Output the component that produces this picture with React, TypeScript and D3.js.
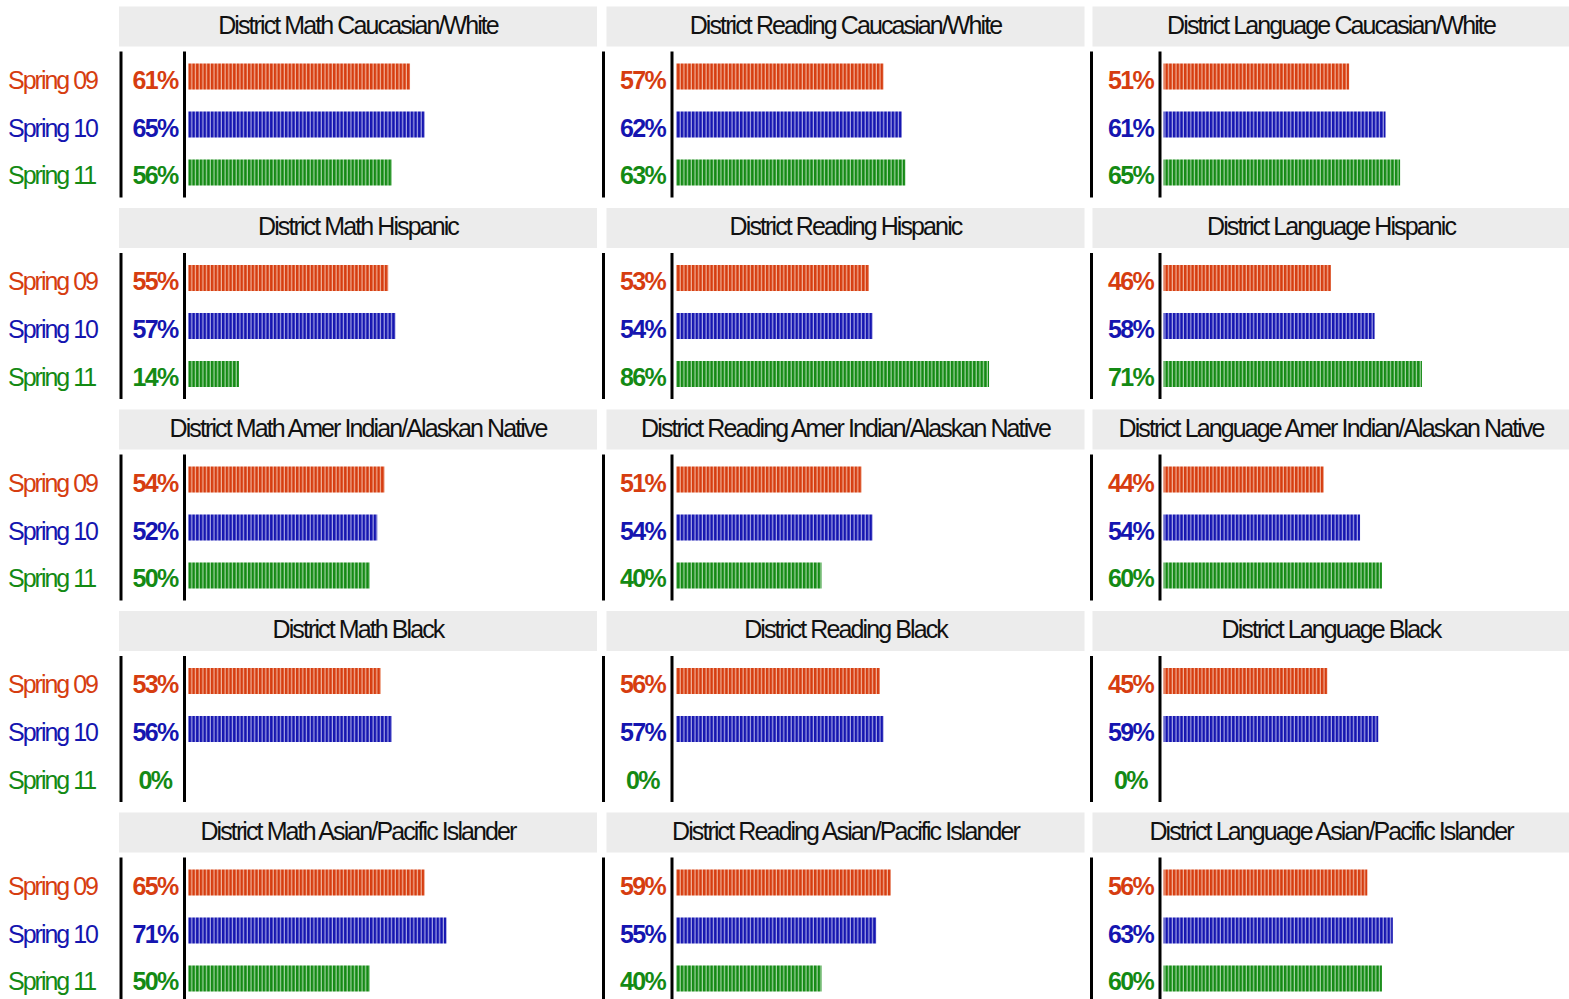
import React from "react";
import * as d3 from "d3";

const periods = ["Spring 09", "Spring 10", "Spring 11"];
const subjects = ["Math", "Reading", "Language"];
const groups = [
  "Caucasian/White",
  "Hispanic",
  "Amer Indian/Alaskan Native",
  "Black",
  "Asian/Pacific Islander",
];

// values[subject][group] = [Spring 09, Spring 10, Spring 11]
const mathValues = [
  [61, 65, 56],
  [55, 57, 14],
  [54, 52, 50],
  [53, 56, 0],
  [65, 71, 50],
];
const readingValues = [
  [57, 62, 63],
  [53, 54, 86],
  [51, 54, 40],
  [56, 57, 0],
  [59, 55, 40],
];
const languageValues = [
  [51, 61, 65],
  [46, 58, 71],
  [44, 54, 60],
  [45, 59, 0],
  [56, 63, 60],
];
const subjectValues = [mathValues, readingValues, languageValues];

const periodColors = ["#d63d10", "#1515b0", "#148a14"];
const periodLight = ["#f2b49c", "#a8a8e6", "#a6d6a6"];

const W = 1569;
const H = 999;
const FONT = "'Liberation Sans', Arial, sans-serif";

// column layout
const cols = [
  { line1: 121, line2: 184.5, bar: 188, hx: 119, hw: 478 },
  { line1: 603.5, line2: 672, bar: 676, hx: 606.5, hw: 478 },
  { line1: 1091.5, line2: 1160, bar: 1163.5, hx: 1092.5, hw: 477 },
];

const x = d3.scaleLinear().domain([0, 100]).range([0, 364]);
const rowTop = (i: number) => 6.5 + i * 201.5;

export default function App() {
  return (
    <svg
      width={W}
      height={H}
      style={{ position: "absolute", left: 0, top: 0, background: "#fff" }}
      fontFamily={FONT}
    >
      <defs>
        {periods.map((p, k) => (
          <pattern
            key={p}
            id={`stripe${k}`}
            patternUnits="userSpaceOnUse"
            width={3.7}
            height={10}
          >
            <rect width={3.7} height={10} fill={periodLight[k]} />
            <rect width={2.5} height={10} fill={periodColors[k]} />
          </pattern>
        ))}
      </defs>
      {groups.map((g, gi) => {
        const top = rowTop(gi);
        const y = d3
          .scaleBand<string>()
          .domain(periods)
          .range([top + 45, top + 191])
          .paddingInner(0.458)
          .paddingOuter(0.25);
        return (
          <g key={g}>
            {subjects.map((s, si) => {
              const c = cols[si];
              const vals = subjectValues[si][gi];
              return (
                <g key={s}>
                  <rect x={c.hx} y={top} width={c.hw} height={40} fill="#ececec" />
                  <text
                    x={c.hx + c.hw / 2}
                    y={top + 27}
                    textAnchor="middle"
                    fontSize={25}
                    letterSpacing={-1.9}
                    fill="#111"
                  >
                    {`District ${s} ${g}`}
                  </text>
                  <line x1={c.line1} x2={c.line1} y1={top + 45} y2={top + 191} stroke="#000" strokeWidth={3} />
                  <line x1={c.line2} x2={c.line2} y1={top + 45} y2={top + 191} stroke="#000" strokeWidth={3} />
                  {periods.map((p, k) => {
                    const by = y(p) as number;
                    const cy = by + y.bandwidth() / 2;
                    return (
                      <g key={p}>
                        {si === 0 && (
                          <text
                            x={8}
                            y={cy + 12}
                            fontSize={25}
                            letterSpacing={-2}
                            fill={periodColors[k]}
                          >
                            {p}
                          </text>
                        )}
                        <text
                          x={c.line2 - 29.5}
                          y={cy + 12}
                          textAnchor="middle"
                          fontSize={25}
                          fontWeight="bold"
                          letterSpacing={-1.6}
                          fill={periodColors[k]}
                        >
                          {`${vals[k]}%`}
                        </text>
                        {vals[k] > 0 && (
                          <rect
                            x={c.bar}
                            y={by}
                            width={x(vals[k])}
                            height={y.bandwidth()}
                            fill={`url(#stripe${k})`}
                          />
                        )}
                      </g>
                    );
                  })}
                </g>
              );
            })}
          </g>
        );
      })}
    </svg>
  );
}
